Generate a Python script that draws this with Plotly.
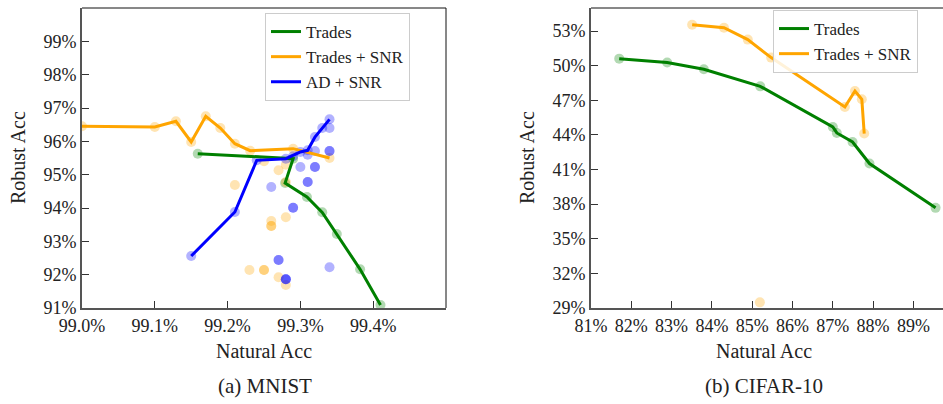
import plotly.graph_objects as go

# ---------------- MNIST data ----------------
mn_trades_nat = [99.159, 99.290, 99.279, 99.309, 99.330, 99.350, 99.382, 99.410]
mn_trades_rob = [95.63, 95.48, 94.75, 94.33, 93.87, 93.22, 92.16, 91.09]

mn_snr_nat = [99.000, 99.100, 99.129, 99.150, 99.170, 99.190, 99.210, 99.231, 99.290, 99.340]
mn_snr_rob = [96.45, 96.43, 96.60, 95.98, 96.75, 96.40, 95.93, 95.72, 95.78, 95.50]
mn_snr_extra_nat = [99.25, 99.21, 99.27, 99.28, 99.28, 99.28, 99.26, 99.26, 99.26, 99.25, 99.25, 99.23, 99.27, 99.28]
mn_snr_extra_rob = [95.40, 94.69, 95.13, 95.30, 94.78, 93.72, 93.61, 93.46, 93.46, 92.14, 92.14, 92.14, 91.92, 91.69]

mn_ad_nat = [99.150, 99.210, 99.240, 99.280, 99.300, 99.310, 99.320, 99.330, 99.340]
mn_ad_rob = [92.56, 93.88, 95.43, 95.48, 95.68, 95.73, 96.13, 96.40, 96.66]
mn_ad_extra_nat = [99.34, 99.34, 99.34, 99.32, 99.31, 99.29, 99.30, 99.32, 99.32, 99.31, 99.31,
                   99.26, 99.29, 99.29, 99.27, 99.27, 99.28, 99.28, 99.28, 99.34]
mn_ad_extra_rob = [96.40, 95.71, 95.71, 95.71, 95.60, 95.55, 95.23, 95.23, 95.23, 94.78, 94.78,
                   94.63, 94.01, 94.01, 92.44, 92.44, 91.86, 91.86, 91.86, 92.22]

mn_xticks = [99.0, 99.1, 99.2, 99.3, 99.4]
mn_yticks = [91, 92, 93, 94, 95, 96, 97, 98, 99]

# ---------------- CIFAR-10 data ----------------
cf_trades_nat = [81.70, 82.89, 83.80, 85.20, 87.00, 87.10, 87.49, 87.91, 89.55]
cf_trades_rob = [50.61, 50.27, 49.69, 48.21, 44.69, 44.17, 43.39, 41.52, 37.68]

cf_snr_nat = [83.51, 84.30, 84.89, 85.47, 87.30, 87.55, 87.72, 87.78]
cf_snr_rob = [53.55, 53.29, 52.26, 50.70, 46.42, 47.81, 47.09, 44.12]
cf_snr_extra_nat = [85.19]
cf_snr_extra_rob = [29.49]

cf_xticks = [81, 82, 83, 84, 85, 86, 87, 88, 89]
cf_yticks = [29, 32, 35, 38, 41, 44, 47, 50, 53]

GREEN = "#008000"
ORANGE = "#FFA500"
BLUE = "#0000FF"
FONT = "Times New Roman, Liberation Serif, DejaVu Serif, serif"

W, H = 943, 404
def px_x(p):
    return p / W
def px_y(p):
    return 1 - p / H

fig = go.Figure()

def add_points(nat, rob, color, xa, ya):
    fig.add_trace(go.Scatter(x=nat, y=rob, mode="markers", xaxis=xa, yaxis=ya,
                             marker=dict(size=10, color=color, opacity=0.3, line=dict(width=0)),
                             showlegend=False, hoverinfo="skip"))

def add_line(nat, rob, color, name, xa, ya, legend):
    fig.add_trace(go.Scatter(x=nat, y=rob, mode="lines", xaxis=xa, yaxis=ya, name=name,
                             line=dict(color=color, width=3), legend=legend))

# MNIST
add_points(mn_trades_nat, mn_trades_rob, GREEN, "x", "y")
add_points(mn_snr_nat + mn_snr_extra_nat, mn_snr_rob + mn_snr_extra_rob, ORANGE, "x", "y")
add_points(mn_ad_nat + mn_ad_extra_nat, mn_ad_rob + mn_ad_extra_rob, BLUE, "x", "y")
add_line(mn_trades_nat, mn_trades_rob, GREEN, "Trades", "x", "y", "legend")
add_line(mn_snr_nat, mn_snr_rob, ORANGE, "Trades + SNR", "x", "y", "legend")
add_line(mn_ad_nat, mn_ad_rob, BLUE, "AD + SNR", "x", "y", "legend")

# CIFAR
add_points(cf_trades_nat, cf_trades_rob, GREEN, "x2", "y2")
add_points(cf_snr_nat + cf_snr_extra_nat, cf_snr_rob + cf_snr_extra_rob, ORANGE, "x2", "y2")
add_line(cf_trades_nat, cf_trades_rob, GREEN, "Trades", "x2", "y2", "legend2")
add_line(cf_snr_nat, cf_snr_rob, ORANGE, "Trades + SNR", "x2", "y2", "legend2")

tickfont = dict(family=FONT, size=18, color="#222")
axis_common = dict(showgrid=False, zeroline=False, showline=True, linecolor="#555", linewidth=2,
                   ticks="inside", ticklen=7, tickwidth=1.2, tickcolor="#333", tickfont=tickfont,
                   automargin=False)

legfont = dict(family=FONT, size=17, color="#222")
ydom = [px_y(308), px_y(8)]
fig.update_layout(
    width=W, height=H, margin=dict(l=0, r=0, t=0, b=0, autoexpand=False),
    paper_bgcolor="white", plot_bgcolor="white",
    font=dict(family=FONT, size=18, color="#222"),
    xaxis=dict(domain=[px_x(82), px_x(446)], range=[99.0, 99.5], tickvals=mn_xticks,
               ticktext=[f"{v:.1f}%" for v in mn_xticks], anchor="y", **axis_common),
    yaxis=dict(domain=ydom, range=[91, 100], tickvals=mn_yticks,
               ticktext=[f"{v}%" for v in mn_yticks], anchor="x", **axis_common),
    xaxis2=dict(domain=[px_x(591), 1.0], range=[81, 81 + (943 - 591) / 40.3], tickvals=cf_xticks,
                ticktext=[f"{v}%" for v in cf_xticks], anchor="y2", **axis_common),
    yaxis2=dict(domain=ydom, range=[29, 55], tickvals=cf_yticks,
                ticktext=[f"{v}%" for v in cf_yticks], anchor="x2", **axis_common),
    legend=dict(x=px_x(265), y=px_y(13), xanchor="left", yanchor="top", itemwidth=30,
                bgcolor="rgba(255,255,255,0.85)", bordercolor="#cccccc", borderwidth=1,
                font=legfont, tracegroupgap=0),
    legend2=dict(x=px_x(773), y=px_y(10), xanchor="left", yanchor="top", itemwidth=30,
                 bgcolor="rgba(255,255,255,0.85)", bordercolor="#cccccc", borderwidth=1,
                 font=legfont, tracegroupgap=0),
    showlegend=True,
)

# box borders (top/right) as thin black lines
fig.add_shape(type="line", xref="x domain", yref="y domain", x0=0, x1=1, y0=1, y1=1,
              line=dict(color="#111", width=1))
fig.add_shape(type="line", xref="x domain", yref="y domain", x0=1, x1=1, y0=0, y1=1,
              line=dict(color="#111", width=1))
fig.add_shape(type="line", xref="x2 domain", yref="y2 domain", x0=0, x1=1, y0=1, y1=1,
              line=dict(color="#111", width=1))

labfont = dict(family=FONT, size=20, color="#222")
capfont = dict(family=FONT, size=21, color="#222")
annots = [
    dict(text="Natural Acc", x=px_x(264), y=px_y(351), font=labfont),
    dict(text="Natural Acc", x=px_x(764), y=px_y(351), font=labfont),
    dict(text="Robust Acc", x=px_x(18), y=px_y(158), font=labfont, textangle=-90),
    dict(text="Robust Acc", x=px_x(527), y=px_y(158), font=labfont, textangle=-90),
    dict(text="(a) MNIST", x=px_x(265), y=px_y(386), font=capfont),
    dict(text="(b) CIFAR-10", x=px_x(764), y=px_y(386), font=capfont),
]
for a in annots:
    fig.add_annotation(xref="paper", yref="paper", xanchor="center", yanchor="middle",
                       showarrow=False, **a)

fig.write_html("out.html", config={"displayModeBar": False},
               post_script="document.body.style.margin='0';document.body.style.overflow='hidden';")
